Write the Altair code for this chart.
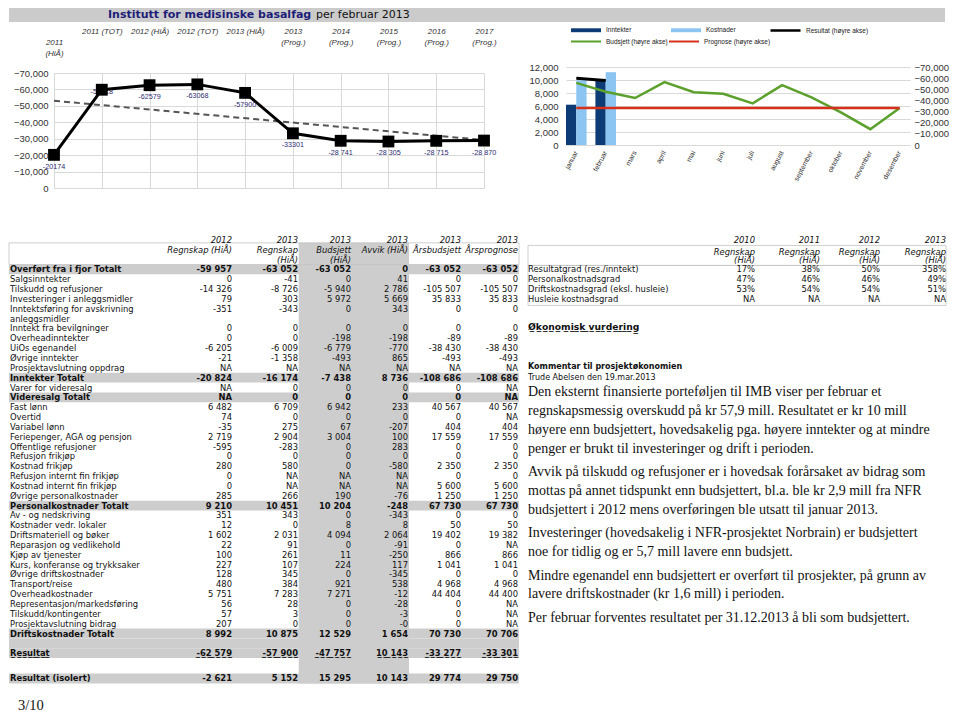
import json
import altair as alt
import pandas as pd

# ------------------------------------------------------------------ data
TITLE_MAIN = "Institutt for medisinske basalfag"
TITLE_SUB = "per februar 2013"

trend_axis_lines = [["", "2011", "(HiÅ)"], ["2011 (TOT)"], ["2012 (HiÅ)"], ["2012 (TOT)"],
                    ["2013 (HiÅ)"], ["2013", "(Prog.)"], ["2014", "(Prog.)"],
                    ["2015", "(Prog.)"], ["2016", "(Prog.)"], ["2017", "(Prog.)"]]
trend_values = [-20174, -59818, -62579, -63068, -57900, -33301, -28741, -28305, -28715, -28870]
trend_value_labels = ["-20174", "-59818", "-62579", "-63068", "-57900", "-33301",
                      "-28 741", "-28 305", "-28 715", "-28 870"]
result_ticks = [-70000, -60000, -50000, -40000, -30000, -20000, -10000, 0]

months = ["januar", "februar", "mars", "april", "mai", "juni", "juli", "august",
          "september", "oktober", "november", "desember"]
bar_series = ["Inntekter", "Kostnader"]
income = [6200, 10150]
costs = [9950, 11200]
result_series = "Resultat (høyre akse)"
result_monthly = [-59900, -57900]
budget_series = "Budsjett (høyre akse)"
budget_monthly = [-55800, -47757, -42200, -56400, -47400, -45900, -37400, -53700,
                  -42800, -29300, -14200, -33277]
forecast_series = "Prognose (høyre akse)"
forecast_monthly = [-33301, -33301, -33301, -33301, -33301, -33301, -33301, -33301,
                    -33301, -33301, -33301, -33301]
amount_ticks = [0, 2000, 4000, 6000, 8000, 10000, 12000]

table_years = ["2012", "2013", "2013", "2013", "2013", "2013"]
table_head1 = ["Regnskap (HiÅ)", "Regnskap", "Budsjett", "Avvik (HiÅ)", "Årsbudsjett", "Årsprognose"]
table_head2 = ["", "(HiÅ)", "(HiÅ)", "", "", ""]
row_labels = [
    "Overført fra i fjor Totalt", "Salgsinntekter", "Tilskudd og refusjoner",
    "Investeringer i anleggsmidler", "Inntektsføring for avskrivning", "anleggsmidler",
    "Inntekt fra bevilgninger", "Overheadinntekter", "UiOs egenandel", "Øvrige inntekter",
    "Prosjektavslutning oppdrag", "Inntekter Totalt", "Varer for videresalg",
    "Videresalg Totalt", "Fast lønn", "Overtid", "Variabel lønn",
    "Feriepenger, AGA og pensjon", "Offentlige refusjoner", "Refusjon frikjøp",
    "Kostnad frikjøp", "Refusjon internt fin frikjøp", "Kostnad internt fin frikjøp",
    "Øvrige personalkostnader", "Personalkostnader Totalt", "Av - og nedskriving",
    "Kostnader vedr. lokaler", "Driftsmateriell og bøker", "Reparasjon og vedlikehold",
    "Kjøp av tjenester", "Kurs, konferanse og trykksaker", "Øvrige driftskostnader",
    "Transport/reise", "Overheadkostnader", "Representasjon/markedsføring",
    "Tilskudd/kontingenter", "Prosjektavslutning bidrag", "Driftskostnader Totalt",
    "Resultat", "Resultat (isolert)"]
col_2012_regnskap = ["-59 957", "0", "-14 326", "79", "-351", "", "0", "0", "-6 205", "-21", "NA",
                     "-20 824", "NA", "NA", "6 482", "74", "-35", "2 719", "-595", "0", "280", "0",
                     "0", "285", "9 210", "351", "12", "1 602", "22", "100", "227", "128", "480",
                     "5 751", "56", "57", "207", "8 992", "-62 579", "-2 621"]
col_2013_regnskap = ["-63 052", "-41", "-8 726", "303", "-343", "", "0", "0", "-6 009", "-1 358",
                     "NA", "-16 174", "0", "0", "6 709", "0", "275", "2 904", "-283", "0", "580",
                     "NA", "NA", "266", "10 451", "343", "0", "2 031", "91", "261", "107", "345",
                     "384", "7 283", "28", "3", "0", "10 875", "-57 900", "5 152"]
col_2013_budsjett = ["-63 052", "0", "-5 940", "5 972", "0", "", "0", "-198", "-6 779", "-493",
                     "NA", "-7 438", "0", "0", "6 942", "0", "67", "3 004", "0", "0", "0", "NA",
                     "NA", "190", "10 204", "0", "8", "4 094", "0", "11", "224", "0", "921",
                     "7 271", "0", "0", "0", "12 529", "-47 757", "15 295"]
col_2013_avvik = ["0", "41", "2 786", "5 669", "343", "", "0", "-198", "-770", "865", "NA",
                  "8 736", "0", "0", "233", "0", "-207", "100", "283", "0", "-580", "NA", "NA",
                  "-76", "-248", "-343", "8", "2 064", "-91", "-250", "117", "-345", "538", "-12",
                  "-28", "-3", "-0", "1 654", "10 143", "10 143"]
col_2013_arsbudsjett = ["-63 052", "0", "-105 507", "35 833", "0", "", "0", "-89", "-38 430",
                        "-493", "NA", "-108 686", "0", "0", "40 567", "0", "404", "17 559", "0",
                        "0", "2 350", "0", "5 600", "1 250", "67 730", "0", "50", "19 402", "0",
                        "866", "1 041", "0", "4 968", "44 404", "0", "0", "0", "70 730",
                        "-33 277", "29 774"]
col_2013_arsprognose = ["-63 052", "0", "-105 507", "35 833", "0", "", "0", "-89", "-38 430",
                        "-493", "NA", "-108 686", "NA", "NA", "40 567", "NA", "404", "17 559",
                        "0", "0", "2 350", "0", "5 600", "1 250", "67 730", "0", "50", "19 382",
                        "NA", "866", "1 041", "0", "4 968", "44 400", "NA", "NA", "NA", "70 706",
                        "-33 301", "29 750"]
total_rows = ["Overført fra i fjor Totalt", "Inntekter Totalt", "Videresalg Totalt",
              "Personalkostnader Totalt", "Driftskostnader Totalt", "Resultat",
              "Resultat (isolert)"]
underlined_rows = ["Resultat"]

kpi_years = ["2010", "2011", "2012", "2013"]
kpi_labels = ["Resultatgrad (res./inntekt)", "Personalkostnadsgrad",
              "Driftskostnadsgrad (eksl. husleie)", "Husleie kostnadsgrad"]
kpi_2010 = ["17%", "47%", "53%", "NA"]
kpi_2011 = ["38%", "46%", "54%", "NA"]
kpi_2012 = ["50%", "46%", "54%", "NA"]
kpi_2013 = ["358%", "49%", "51%", "NA"]

section_heading = "Økonomisk vurdering"
comment_heading = "Kommentar til prosjektøkonomien"
comment_author = "Trude Abelsen den 19.mar.2013"
comment_paragraphs = [
    ["Den eksternt finansierte porteføljen til IMB viser per februar et",
     "regnskapsmessig overskudd på kr 57,9 mill. Resultatet er kr 10 mill",
     "høyere enn budsjettert, hovedsakelig pga. høyere inntekter og at mindre",
     "penger er brukt til investeringer og drift i perioden."],
    ["Avvik på tilskudd og refusjoner er i hovedsak forårsaket av bidrag som",
     "mottas på annet tidspunkt enn budsjettert, bl.a. ble kr 2,9 mill fra NFR",
     "budsjettert i 2012 mens overføringen ble utsatt til januar 2013."],
    ["Investeringer (hovedsakelig i NFR-prosjektet Norbrain) er budsjettert",
     "noe for tidlig og er 5,7 mill lavere enn budsjett."],
    ["Mindre egenandel enn budsjettert er overført til prosjekter, på grunn av",
     "lavere driftskostnader (kr 1,6 mill) i perioden."],
    ["Per februar forventes resultatet per 31.12.2013 å bli som budsjettert."],
]
page_number = "3/10"

# ------------------------------------------------------------------ styles / layout
SANS = "Liberation Sans"
DJ = "DejaVu Sans"
SERIF = "Liberation Serif"
GRID = "#d9d9d9"
GRAY = "#cdcdcd"
NAVY_TXT = "#1e1e78"
FS_T = 8.4          # table font size
ROW = 9.84          # table row step in px
TOP_ROW_Y = 268     # page-y of first body row (for converting layout)
LEFT = 45           # left margin (y-axis room of the trend chart)
NOVIEW = alt.ViewBackground(strokeWidth=0, stroke="transparent")


def ul(s):
    return "".join(ch + "\u0332" for ch in s)


# ------------------------------------------------------------------ title bar
TITLE_W = 891
title_chart = alt.layer(
    alt.Chart(pd.DataFrame({"a": [0]})).mark_rect(color="#cbcbcb").encode(
        x=alt.value(-LEFT), x2=alt.value(TITLE_W), y=alt.value(0), y2=alt.value(14)),
    alt.Chart(pd.DataFrame({"t": [TITLE_MAIN]})).mark_text(
        font=DJ, fontSize=11, fontWeight="bold", color=NAVY_TXT, align="left",
        baseline="middle").encode(text="t:N", x=alt.value(107 - 8 - LEFT), y=alt.value(7)),
    alt.Chart(pd.DataFrame({"t": [TITLE_SUB]})).mark_text(
        font=DJ, fontSize=11, color="#111", align="left", baseline="middle")
    .encode(text="t:N", x=alt.value(315 - 8 - LEFT), y=alt.value(7)),
).properties(width=TITLE_W, height=14, view=NOVIEW)

# ------------------------------------------------------------------ trend chart (left top)
trend_df = pd.DataFrame({"idx": list(range(len(trend_values))), "value": trend_values,
                         "label": trend_value_labels})
label_expr = json.dumps(trend_axis_lines, ensure_ascii=False) + "[datum.value]"
x_tr = alt.X("idx:Q", scale=alt.Scale(domain=[0, 9], nice=False, zero=False),
             axis=alt.Axis(orient="top", values=list(range(10)), labelExpr=label_expr,
                           labelFont=SANS, labelFontStyle="italic", labelFontSize=8,
                           labelColor="#333", labelBaseline="top", labelPadding=46,
                           labelLineHeight=11, labelFlush=False, labelOverlap=False,
                           ticks=False, domain=False, grid=True, gridColor=GRID,
                           minExtent=51, maxExtent=51, title=None))
y_tr = alt.Y("value:Q", scale=alt.Scale(domain=[0, -70000], nice=False),
             axis=alt.Axis(values=result_ticks, format=",.0f", labelFont=SANS,
                           labelFontSize=9.5, labelColor="#333", labelPadding=6, ticks=False,
                           domain=False, grid=True, gridColor=GRID, minExtent=45,
                           maxExtent=45, title=None))
base_tr = alt.Chart(trend_df).encode(x=x_tr, y=y_tr)
trend_chart = alt.layer(
    base_tr.transform_filter("datum.idx == 1").mark_text(dy=2, font=SANS, fontSize=7.2,
                                                           color="#2b2b70").encode(text="label:N"),
    base_tr.transform_regression("idx", "value").mark_line(color="#555", strokeWidth=2,
                                                            strokeDash=[6, 4]),
    base_tr.mark_line(color="#000", strokeWidth=3),
    base_tr.mark_point(shape="square", size=140, filled=True, color="#000", opacity=1),
    base_tr.transform_filter("datum.idx != 1").mark_text(dy=12, font=SANS, fontSize=7.2,
                                                           color="#2b2b70").encode(text="label:N"),
).properties(width=430, height=115, view=NOVIEW)

# ------------------------------------------------------------------ monthly combo chart (right top)
x_m = alt.X("month:N", sort=months,
            scale=alt.Scale(domain=months, paddingInner=0.3, paddingOuter=0),
            axis=alt.Axis(labelAngle=-62, labelFont=SANS, labelFontSize=7, labelColor="#333",
                          labelPadding=6, ticks=False, domain=False, title=None,
                          labelOverlap=False))
y_left = alt.Y("value:Q", scale=alt.Scale(domain=[0, 12000], range=[72, -6], nice=False),
               axis=alt.Axis(values=amount_ticks, format=",.0f", labelFont=SANS,
                             labelFontSize=9.5, labelColor="#333", labelPadding=8, ticks=False,
                             domain=False, grid=True, gridColor=GRID, title=None))
y_right = alt.Y("value:Q", scale=alt.Scale(domain=[0, -70000], range=[72, -6], nice=False),
                axis=alt.Axis(orient="right", values=result_ticks, format=",.0f",
                              labelFont=SANS, labelFontSize=9.5, labelColor="#333",
                              labelPadding=4, ticks=False, domain=False, grid=False,
                              title=None))

# legend positions are in the coordinates of the whole layout (origin = title bar start)
LEG_X1 = 569 - 8 - LEFT
LEG_X3 = 768 - 8 - LEFT
bars_df = pd.DataFrame({"month": months[:2] + months[:2],
                        "series": [bar_series[0]] * 2 + [bar_series[1]] * 2,
                        "value": income + costs})
legend_common = dict(orient="none", direction="horizontal", title=None, padding=0,
                     labelFont=SANS, labelFontSize=6.5, labelColor="#222", labelOffset=4,
                     symbolSize=900)
bars = alt.Chart(bars_df).mark_bar().encode(
    x=x_m,
    xOffset=alt.XOffset("series:N", sort=bar_series),
    y=y_left,
    fill=alt.Fill("series:N", scale=alt.Scale(domain=bar_series, range=["#0d3b75", "#8cc5f2"]),
                  legend=alt.Legend(symbolType="M-1,-0.13H1V0.13H-1Z", columnPadding=38,
                                    legendX=LEG_X1, legendY=6, **legend_common)),
)
res_df = pd.DataFrame({"month": months[:2], "value": result_monthly,
                       "series": [result_series] * 2})
res_line = alt.Chart(res_df).mark_line(strokeWidth=2.8).encode(
    x=x_m, y=y_right,
    stroke=alt.Stroke("series:N", scale=alt.Scale(domain=[result_series], range=["#000000"]),
                      legend=alt.Legend(symbolType="stroke", symbolStrokeWidth=2.5,
                                        legendX=LEG_X3, legendY=6, **legend_common)),
)
bp_df = pd.DataFrame({"month": months + months,
                      "value": budget_monthly + forecast_monthly,
                      "series": [budget_series] * 12 + [forecast_series] * 12})
bp_lines = alt.Chart(bp_df).mark_line(strokeWidth=2.5).encode(
    x=x_m, y=y_right,
    color=alt.Color("series:N", scale=alt.Scale(domain=[budget_series, forecast_series],
                                                range=["#5ba02c", "#d6301a"]),
                    legend=alt.Legend(symbolType="stroke", symbolStrokeWidth=2,
                                      columnPadding=-4, legendX=LEG_X1, legendY=17.5,
                                      **legend_common)),
)
combo_chart = alt.layer(bars, alt.layer(bp_lines, res_line)).resolve_scale(
    y="independent").properties(width=344, height=72, view=NOVIEW)

row_b = alt.hconcat(trend_chart, combo_chart, spacing=82, bounds="flush")

# ------------------------------------------------------------------ big table (left bottom)
TABLE_U = 510                      # layout units = px from the page's left content edge
TABLE_W = TABLE_U - LEFT
TABLE_H = 45.5 * ROW
col_right = [223, 289, 342, 399, 452, 509]
value_cols = [col_2012_regnskap, col_2013_regnskap, col_2013_budsjett, col_2013_avvik,
              col_2013_arsbudsjett, col_2013_arsprognose]

row_pos = []
for i, lab in enumerate(row_labels):
    if lab == "Resultat":
        row_pos.append(39)
    elif lab == "Resultat (isolert)":
        row_pos.append(41.5)
    else:
        row_pos.append(i)

lab_recs, num_recs, head_recs = [], [], []
for i, lab in enumerate(row_labels):
    bold = lab in total_rows
    u = lab in underlined_rows
    lab_recs.append({"x": 1, "pos": row_pos[i], "t": ul(lab) if u else lab, "bold": bold})
    for c, vals in enumerate(value_cols):
        if vals[i] != "":
            num_recs.append({"x": col_right[c], "pos": row_pos[i],
                             "t": ul(vals[i]) if u else vals[i], "bold": bold})
for c in range(6):
    head_recs.append({"x": col_right[c], "pos": -3, "t": table_years[c]})
    head_recs.append({"x": col_right[c], "pos": -2, "t": table_head1[c]})
    if table_head2[c]:
        head_recs.append({"x": col_right[c], "pos": -1, "t": table_head2[c]})
lab_df = pd.DataFrame(lab_recs)
num_df = pd.DataFrame(num_recs)
head_df = pd.DataFrame(head_recs)

gray_recs = [{"x0": 289.7, "x1": 400, "p0": -2.7, "p1": 42.07}]
for i, lab in enumerate(row_labels):
    if lab in total_rows:
        p = row_pos[i]
        if lab == "Resultat (isolert)":
            gray_recs.append({"x0": 0, "x1": TABLE_U, "p0": p - 0.44, "p1": p + 0.57})
        else:
            gray_recs.append({"x0": 0, "x1": TABLE_U, "p0": p - 0.5, "p1": p + 0.5})
gray_recs.append({"x0": 0, "x1": TABLE_U, "p0": 37.5, "p1": 38.5})
gray_df = pd.DataFrame(gray_recs)
box_df = pd.DataFrame([{"x0": 0, "x1": TABLE_U, "p0": -2.7, "p1": -0.5}])

tscale = alt.Scale(domain=[0, TABLE_U], range=[-LEFT, TABLE_W], nice=False, zero=False)
yscale = alt.Scale(domain=[42, -3.5], nice=False, zero=False)
tx = alt.X("x:Q", scale=tscale, axis=None)
ty = alt.Y("pos:Q", scale=yscale, axis=None)
rx = alt.X("x0:Q", scale=tscale, axis=None)
ry = alt.Y("p0:Q", scale=yscale, axis=None)

table_chart = alt.layer(
    alt.Chart(gray_df).mark_rect(color=GRAY).encode(x=rx, x2="x1:Q", y=ry, y2="p1:Q"),
    alt.Chart(box_df).mark_rect(fill="transparent", stroke="#c4c4c4", strokeWidth=0.8)
    .encode(x=rx, x2="x1:Q", y=ry, y2="p1:Q"),
    alt.Chart(head_df).mark_text(font=DJ, fontSize=FS_T, fontStyle="italic", align="right",
                                 baseline="middle", color="#111")
    .encode(x=tx, y=ty, text="t:N"),
    alt.Chart(lab_df).transform_filter("!datum.bold").mark_text(
        font=DJ, fontSize=FS_T, align="left", baseline="middle", color="#111")
    .encode(x=tx, y=ty, text="t:N"),
    alt.Chart(lab_df).transform_filter("datum.bold").mark_text(
        font=DJ, fontSize=FS_T, fontWeight="bold", align="left", baseline="middle", color="#111")
    .encode(x=tx, y=ty, text="t:N"),
    alt.Chart(num_df).transform_filter("!datum.bold").mark_text(
        font=DJ, fontSize=FS_T, align="right", baseline="middle", color="#111")
    .encode(x=tx, y=ty, text="t:N"),
    alt.Chart(num_df).transform_filter("datum.bold").mark_text(
        font=DJ, fontSize=FS_T, fontWeight="bold", align="right", baseline="middle", color="#111")
    .encode(x=tx, y=ty, text="t:N"),
    alt.Chart(pd.DataFrame({"x": [9], "pos": [44.4], "t": [page_number]})).mark_text(
        font=SERIF, fontSize=14.5, align="left", baseline="middle", color="#111")
    .encode(x=tx, y=ty, text="t:N"),
).properties(width=TABLE_W, height=TABLE_H, view=NOVIEW)

# ------------------------------------------------------------------ right panel
PANEL_W = 426
kpi_right = [232, 297, 357, 423]
kpi_cols = [kpi_2010, kpi_2011, kpi_2012, kpi_2013]


def page_pos(y):
    return (y - TOP_ROW_Y) / ROW


p_lab, p_num, p_head = [], [], []
for c in range(4):
    p_head.append({"x": kpi_right[c], "pos": -3, "t": kpi_years[c]})
    p_head.append({"x": kpi_right[c], "pos": -1.8, "t": "Regnskap"})
    p_head.append({"x": kpi_right[c], "pos": -0.95, "t": "(HiÅ)"})
for r, lab in enumerate(kpi_labels):
    p_lab.append({"x": 5, "pos": r, "t": lab, "fs": FS_T, "bold": False})
    for c in range(4):
        p_num.append({"x": kpi_right[c], "pos": r, "t": kpi_cols[c][r]})
p_lab.append({"x": 5, "pos": page_pos(326), "t": ul(section_heading), "fs": 9.2, "bold": True})
p_lab.append({"x": 5, "pos": page_pos(366), "t": comment_heading, "fs": 8, "bold": True})
p_lab.append({"x": 5, "pos": page_pos(376.5), "t": comment_author, "fs": 8, "bold": False})
para_recs = []
y = 391.0
for pi, para in enumerate(comment_paragraphs):
    for li, line in enumerate(para):
        para_recs.append({"x": 5, "pos": page_pos(y), "t": line})
        y += 18.7
    y += 5
p_lab_df = pd.DataFrame(p_lab)
p_num_df = pd.DataFrame(p_num)
p_head_df = pd.DataFrame(p_head)
para_df = pd.DataFrame(para_recs)
p_box_df = pd.DataFrame([{"x0": 5, "x1": 423, "p0": page_pos(244), "p1": page_pos(264)},
                         {"x0": 5, "x1": 423, "p0": page_pos(264), "p1": page_pos(304)}])

ptx = alt.X("x:Q", scale=alt.Scale(domain=[0, PANEL_W], nice=False, zero=False), axis=None)
prx = alt.X("x0:Q", scale=alt.Scale(domain=[0, PANEL_W], nice=False, zero=False), axis=None)


def plabel(bold, fs):
    return alt.Chart(p_lab_df).transform_filter(
        f"datum.bold == {str(bold).lower()} && datum.fs == {fs}").mark_text(
        font=DJ, fontSize=fs, fontWeight="bold" if bold else "normal", align="left",
        baseline="middle", color="#111").encode(x=ptx, y=ty, text="t:N")


panel_chart = alt.layer(
    alt.Chart(p_box_df).mark_rect(fill="transparent", stroke="#c4c4c4", strokeWidth=0.8)
    .encode(x=prx, x2="x1:Q", y=ry, y2="p1:Q"),
    alt.Chart(p_head_df).mark_text(font=DJ, fontSize=FS_T, fontStyle="italic", align="right",
                                   baseline="middle", color="#111")
    .encode(x=ptx, y=ty, text="t:N"),
    plabel(False, FS_T),
    plabel(True, 9.2),
    plabel(True, 8),
    plabel(False, 8),
    alt.Chart(p_num_df).mark_text(font=DJ, fontSize=FS_T, align="right", baseline="middle",
                                  color="#111").encode(x=ptx, y=ty, text="t:N"),
    alt.Chart(para_df).mark_text(font=SERIF, fontSize=14, align="left", baseline="middle",
                                 color="#111").encode(x=ptx, y=ty, text="t:N"),
).properties(width=PANEL_W, height=TABLE_H, view=NOVIEW)

row_c = alt.hconcat(table_chart, panel_chart, spacing=4, bounds="flush")

chart = alt.vconcat(
    title_chart,
    alt.vconcat(row_b, row_c, spacing=42),
    spacing=0,
).properties(padding=0).configure(background="white").configure_view(strokeWidth=0)

chart.save("out.html", embed_options={"renderer": "svg", "actions": False})
